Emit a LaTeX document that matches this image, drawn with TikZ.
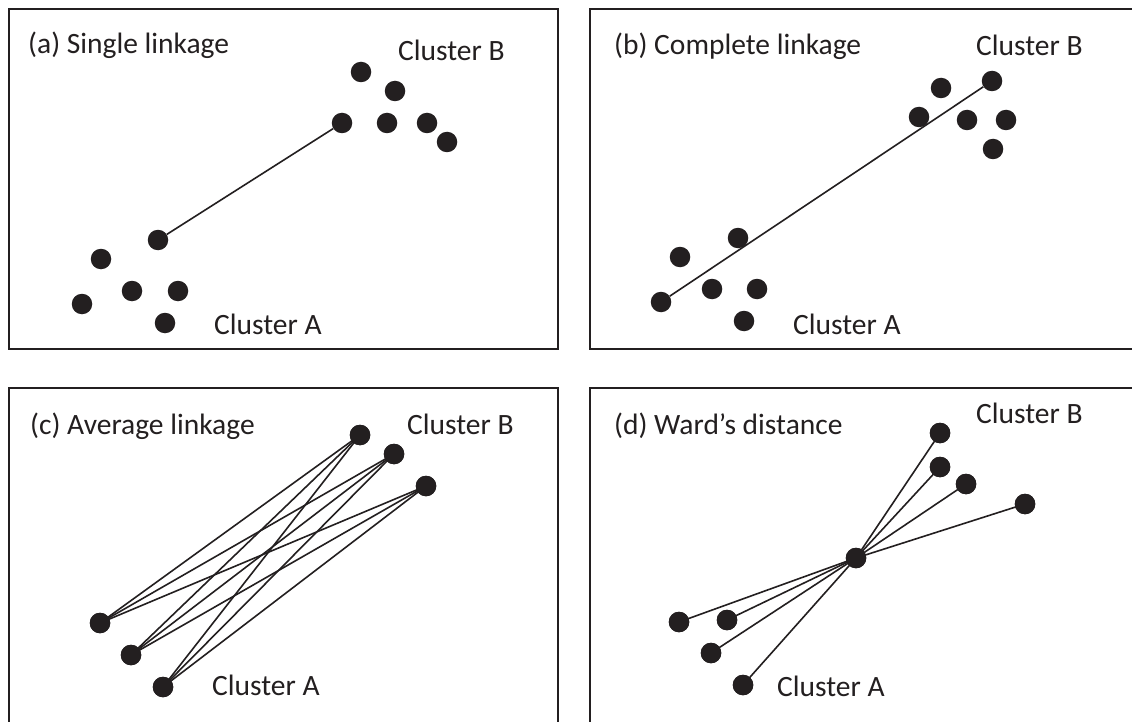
\documentclass[tikz,border=0pt]{standalone}
\usepackage{fontspec}
\setmainfont{Carlito}
\definecolor{ink}{RGB}{35,31,32}
\begin{document}
\begin{tikzpicture}[x=1pt,y=-1pt,
  panel/.style={draw=ink,line width=2.3pt},
  dot/.style={circle,fill=ink,inner sep=0pt,minimum size=20.5pt},
  link/.style={draw=ink,line width=1.6pt},
  lbl/.style={anchor=base west,inner sep=0pt,text=ink,font=\fontsize{29.5}{35}\selectfont}]
\useasboundingbox (0,0) rectangle (1132,722);
\clip (0,0) rectangle (1132,722);
\fill[white] (0,0) rectangle (1132,722);
% panels
\draw[panel] (9,9) rectangle (558,349);
\draw[panel] (590,9) rectangle (1150,349);
\draw[panel] (9,388) rectangle (558,740);
\draw[panel] (590,388) rectangle (1150,740);

% (a) Single linkage
\node[lbl] (ta) at (28,54) {(a) Single linkage};
\node[lbl] (cba) at (398,61) {Cluster B};
\node[lbl] (caa) at (214,334) {Cluster A};
\node[dot] (aB1) at (361,72) {};
\node[dot] (aB2) at (395,91) {};
\node[dot] (aB3) at (342,123) {};
\node[dot] (aB4) at (387,123) {};
\node[dot] (aB5) at (427,123) {};
\node[dot] (aB6) at (447,142) {};
\node[dot] (aA1) at (158,240) {};
\node[dot] (aA2) at (101,259) {};
\node[dot] (aA3) at (82,304) {};
\node[dot] (aA4) at (132,291) {};
\node[dot] (aA5) at (178,291) {};
\node[dot] (aA6) at (165,323) {};
\draw[link] (aA1) -- (aB3);

% (b) Complete linkage
\node[lbl] (tb) at (614,54.5) {(b) Complete linkage};
\node[lbl] (cbb) at (976,55.5) {Cluster B};
\node[lbl] (cab) at (793,334) {Cluster A};
\node[dot] (bB1) at (992,81) {};
\node[dot] (bB2) at (941,88) {};
\node[dot] (bB3) at (919,117) {};
\node[dot] (bB4) at (967,120) {};
\node[dot] (bB5) at (1006,120) {};
\node[dot] (bB6) at (993,149) {};
\node[dot] (bA1) at (738,238) {};
\node[dot] (bA2) at (680,257) {};
\node[dot] (bA3) at (661,302) {};
\node[dot] (bA4) at (712,289) {};
\node[dot] (bA5) at (757,289) {};
\node[dot] (bA6) at (744,321) {};
\draw[link] (bA3) -- (bB1);

% (c) Average linkage
\node[lbl] (tc) at (30,434) {(c) Average linkage};
\node[lbl] (cbc) at (407,434) {Cluster B};
\node[lbl] (cac) at (212,695) {Cluster A};
\node[dot] (cB1) at (360,435) {};
\node[dot] (cB2) at (394,454) {};
\node[dot] (cB3) at (426,486) {};
\node[dot] (cA1) at (100,623) {};
\node[dot] (cA2) at (131,655) {};
\node[dot] (cA3) at (163,687) {};
\foreach \i in {1,2,3}{
  \foreach \j in {1,2,3}{
    \draw[link] (cA\i.center) -- (cB\j.center);
  }
}
\foreach \n in {cB1,cB2,cB3,cA1,cA2,cA3}{\fill[ink] (\n) circle (10.25pt);}

% (d) Ward's distance
\node[lbl] (td) at (614,434) {(d) Ward’s distance};
\node[lbl] (cbd) at (976,423) {Cluster B};
\node[lbl] (cad) at (777,696) {Cluster A};
\node[dot] (dC) at (856,558) {};
\node[dot] (dB1) at (940,433) {};
\node[dot] (dB2) at (940,467) {};
\node[dot] (dB3) at (966,484) {};
\node[dot] (dB4) at (1025,504) {};
\node[dot] (dA1) at (679,622) {};
\node[dot] (dA2) at (727,620) {};
\node[dot] (dA3) at (711,653) {};
\node[dot] (dA4) at (743,685) {};
\foreach \n in {dB1,dB2,dB3,dB4,dA1,dA2,dA3,dA4}{\draw[link] (dC.center) -- (\n.center);}
\foreach \n in {dC,dB1,dB2,dB3,dB4,dA1,dA2,dA3,dA4}{\fill[ink] (\n) circle (10.25pt);}
\end{tikzpicture}
\end{document}
